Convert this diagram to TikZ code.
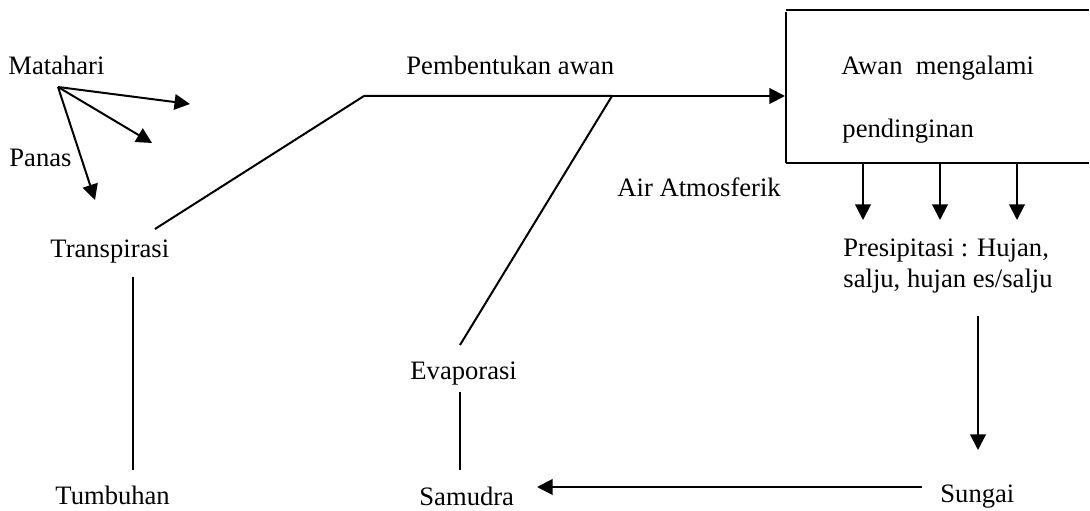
\documentclass[tikz,border=0pt]{standalone}
\usepackage{fontspec}
\setmainfont{Liberation Serif}
\usetikzlibrary{arrows.meta}
\begin{document}
\begin{tikzpicture}[x=0.451pt,y=-0.451pt,
  lbl/.style={inner sep=0pt,anchor=base west,font=\fontsize{12}{14.4}\selectfont},
  ln/.style={line width=0.9pt},
  arr/.style={ln,-{Triangle[length=7pt,width=7pt]}}]
\useasboundingbox (0,0) rectangle (1090,511);
% texts
\node[lbl] (matahari) at (8,75) {Matahari};
\node[lbl] (panas) at (9,167) {Panas};
\node[lbl] (pembentukan) at (406,75) {Pembentukan awan};
\node[lbl] (awan1) at (841,75) {Awan\ \ mengalami};
\node[lbl] (awan2) at (842,138) {pendinginan};
\node[lbl] (air) at (617,197) {Air Atmosferik};
\node[lbl] (transpirasi) at (50,258) {Transpirasi};
\node[lbl,align=left] (presipitasi) at (843,288) {Presipitasi : Hujan,\\salju, hujan es/salju};
\node[lbl] (evaporasi) at (410,380) {Evaporasi};
\node[lbl] (tumbuhan) at (55,505) {Tumbuhan};
\node[lbl] (samudra) at (419,506) {Samudra};
\node[lbl] (sungai) at (940,503) {Sungai};
% connector points
\coordinate (sun) at (58,87);
\coordinate (ray1) at (190,104);
\coordinate (ray2) at (152,143);
\coordinate (ray3) at (95,200);
\coordinate (boxTR) at (1089,10);
\coordinate (boxTL) at (786,10);
\coordinate (boxLT) at (786,12);
\coordinate (boxBL) at (786,163);
\coordinate (boxBR) at (1089,163);
\coordinate (boxin) at (785,96);
\coordinate (bend) at (364,96);
\coordinate (join) at (612,96);
\coordinate (transpTop) at (155,229);
\coordinate (transpBot) at (133,277);
\coordinate (tumbTop) at (133,470);
\coordinate (evapTop) at (460,345);
\coordinate (evapBot) at (460,392);
\coordinate (samTop) at (460,470);
\coordinate (sungLeft) at (922,487);
\coordinate (samRight) at (537,487);
\coordinate (presBot) at (978,316);
\coordinate (sungTop) at (978,450);
% matahari rays
\draw[arr] (sun) -- (ray1);
\draw[arr] (sun) -- (ray2);
\draw[arr] (sun) -- (ray3);
% box (open on the right)
\draw[ln] (boxTL) -- (boxTR);
\draw[ln] (boxLT) -- (boxBL);
\draw[ln] (boxBL) -- (boxBR);
% cloud formation
\draw[ln] (transpTop) -- (bend) -- (join);
\draw[arr] (join) -- (boxin);
\draw[ln] (evapTop) -- (join);
% precipitation arrows
\foreach \x [count=\i] in {863,940,1017}{
  \coordinate (pa\i) at (\x,163);
  \coordinate (pb\i) at (\x,220);
  \draw[arr] (pa\i) -- (pb\i);
}
% vertical links
\draw[ln] (transpBot) -- (tumbTop);
\draw[ln] (evapBot) -- (samTop);
\draw[arr] (presBot) -- (sungTop);
\draw[arr] (sungLeft) -- (samRight);
\end{tikzpicture}
\end{document}
